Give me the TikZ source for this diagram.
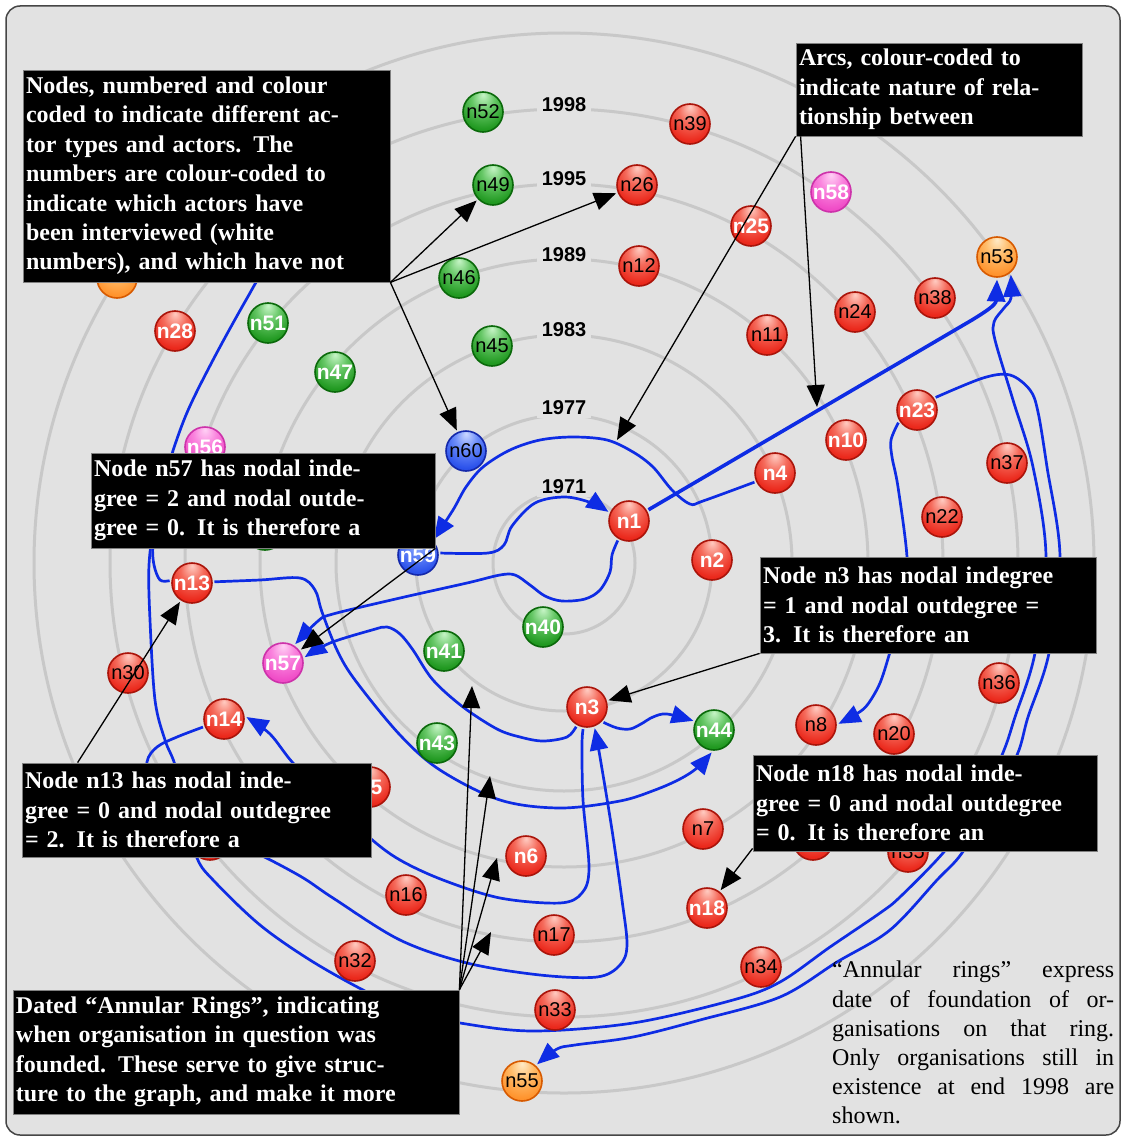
\documentclass[tikz,border=0pt]{standalone}
\usepackage{fontspec}
\setmainfont{Liberation Serif}
\newfontfamily\lsans{Liberation Sans}
\usetikzlibrary{arrows.meta}

\definecolor{bgfill}{RGB}{226,226,226}
\definecolor{ringgray}{RGB}{200,200,200}
\definecolor{frameline}{RGB}{70,70,70}
\definecolor{eblue}{RGB}{14,44,228}
\definecolor{rimred}{RGB}{170,20,10}
\definecolor{rimgreen}{RGB}{10,105,10}
\definecolor{rimblue}{RGB}{20,40,170}
\definecolor{rimpink}{RGB}{205,50,170}
\definecolor{rimorange}{RGB}{215,90,0}

% glossy sphere shadings, highlight near the top
\pgfdeclareradialshading{redball}{\pgfpoint{0bp}{22bp}}{rgb(0bp)=(1,.80,.76); rgb(14bp)=(.96,.42,.36); rgb(30bp)=(.92,.16,.11); rgb(44bp)=(.86,.11,.07); rgb(50bp)=(.74,.07,.04)}
\pgfdeclareradialshading{greenball}{\pgfpoint{0bp}{22bp}}{rgb(0bp)=(.78,.96,.78); rgb(14bp)=(.40,.78,.40); rgb(30bp)=(.13,.60,.13); rgb(44bp)=(.09,.52,.09); rgb(50bp)=(.05,.42,.05)}
\pgfdeclareradialshading{blueball}{\pgfpoint{0bp}{22bp}}{rgb(0bp)=(.80,.85,1); rgb(14bp)=(.42,.55,.98); rgb(30bp)=(.17,.32,.92); rgb(44bp)=(.12,.24,.82); rgb(50bp)=(.08,.16,.66)}
\pgfdeclareradialshading{pinkball}{\pgfpoint{0bp}{22bp}}{rgb(0bp)=(1,.82,.96); rgb(14bp)=(.98,.52,.87); rgb(30bp)=(.94,.30,.78); rgb(44bp)=(.90,.24,.72); rgb(50bp)=(.80,.18,.64)}
\pgfdeclareradialshading{orangeball}{\pgfpoint{0bp}{22bp}}{rgb(0bp)=(1,.92,.78); rgb(14bp)=(1,.74,.42); rgb(30bp)=(1,.58,.18); rgb(44bp)=(.97,.50,.10); rgb(50bp)=(.88,.40,.02)}

\pgfdeclarelayer{ringlayer}
\pgfdeclarelayer{edgelayer}
\pgfdeclarelayer{boxlayer}
\pgfdeclarelayer{toplayer}
\pgfsetlayers{ringlayer,edgelayer,main,boxlayer,toplayer}

\tikzset{
  ball/.style={circle, minimum size=40pt, inner sep=0pt, outer sep=2.5pt, line width=1.6pt,
    shade, font=\lsans\fontsize{20}{20}\selectfont, text=black},
  rball/.style={ball, shading=redball, draw=rimred},
  gball/.style={ball, shading=greenball, draw=rimgreen},
  bball/.style={ball, shading=blueball, draw=rimblue},
  pball/.style={ball, shading=pinkball, draw=rimpink},
  oball/.style={ball, shading=orangeball, draw=rimorange},
  wl/.style={text=white, font=\lsans\bfseries\fontsize{21}{21}\selectfont},
  yearlabel/.style={fill=bgfill, inner xsep=5pt, inner ysep=3pt, font=\lsans\bfseries\fontsize{20}{20}\selectfont},
  annot/.style={fill=black, draw=gray, line width=0.8pt, text=white, inner xsep=3pt, inner ysep=0pt,
    align=left, font=\bfseries\fontsize{24}{29.4}\selectfont},
  be/.style={draw=eblue, line width=2.7pt, line join=round, -{Triangle[length=22pt,width=18pt]}},
  ae/.style={draw=black, line width=1.3pt, -{Triangle[length=22pt,width=18pt]}},
  sm/.style={smooth, tension=0.55}
}

\begin{document}
\begin{tikzpicture}[x=1pt,y=-1pt]
\path[use as bounding box] (0,0) rectangle (1122,1137);

% ---------- frame, annual rings and their dates ----------
\begin{pgfonlayer}{ringlayer}
  \fill[white] (0,0) rectangle (1122,1137);
  \draw[frameline, fill=bgfill, line width=1.5pt, rounded corners=14pt] (6,6) rectangle (1120,1135);
  \foreach \r in {71pt,148pt,228pt,304pt,379pt,454pt,530pt}
    \draw[ringgray, line width=3pt] (564,563) circle[radius=\r];
  \node[yearlabel] (y71) at (564,486.5) {1971};
  \node[yearlabel] (y77) at (564,407.5) {1977};
  \node[yearlabel] (y83) at (564,330) {1983};
  \node[yearlabel] (y89) at (564,254.5) {1989};
  \node[yearlabel] (y95) at (564,178.5) {1995};
  \node[yearlabel] (y98) at (564,105) {1998};
\end{pgfonlayer}

% ---------- actors ----------
\node[gball] (n52) at (483,112) {n52};
\node[rball] (n39) at (690,124) {n39};
\node[gball] (n49) at (493,185) {n49};
\node[rball] (n26) at (637,185) {n26};
\node[pball, wl] (n58) at (831,192) {n58};
\node[rball, wl] (n25) at (751,226) {n25};
\node[oball] (n53) at (997,257) {n53};
\node[rball] (n12) at (639,266) {n12};
\node[gball] (n46) at (459,278) {n46};
\node[oball] (o1) at (117,278) {};
\node[rball, wl] (n28) at (175,331) {n28};
\node[gball, wl] (n51) at (268,323) {n51};
\node[gball, wl] (n47) at (335,372) {n47};
\node[gball] (n45) at (492,346) {n45};
\node[rball] (n11) at (767,335) {n11};
\node[rball] (n24) at (855,312) {n24};
\node[rball] (n38) at (935,298) {n38};
\node[rball, wl] (n23) at (917,410) {n23};
\node[rball, wl] (n10) at (846,440) {n10};
\node[rball] (n37) at (1007,463) {n37};
\node[rball, wl] (n4) at (775,473) {n4};
\node[rball] (n22) at (942,517) {n22};
\node[pball, wl] (n56) at (205,447) {n56};
\node[bball] (n60) at (466,451) {n60};
\node[rball, wl] (n1) at (629,521) {n1};
\node[bball, wl] (n59) at (418,555) {n59};
\node[gball] (g1) at (265,530) {};
\node[rball, wl] (n2) at (712,560) {n2};
\node[rball, wl] (n13) at (192,583) {n13};
\node[gball, wl] (n40) at (543,627) {n40};
\node[pball, wl] (n57) at (283,663) {n57};
\node[rball] (n30) at (128,673) {n30};
\node[gball, wl] (n41) at (444,651) {n41};
\node[rball] (n36) at (999,683) {n36};
\node[rball, wl] (n3) at (587,707) {n3};
\node[rball, wl] (n14) at (224,719) {n14};
\node[rball] (n8) at (816,725) {n8};
\node[rball] (n20) at (894,734) {n20};
\node[gball, wl] (n44) at (714,730) {n44};
\node[gball, wl] (n43) at (437,743) {n43};
\node[rball, wl] (n5) at (370,787) {n5};
\node[rball] (r1) at (210,840) {};
\node[rball] (n7) at (703,829) {n7};
\node[rball, wl] (n6) at (526,856) {n6};
\node[rball] (n16) at (406,895) {n16};
\node[rball, wl] (n18) at (707,908) {n18};
\node[rball] (r2) at (813,840) {};
\node[rball] (n35) at (908,852) {n35};
\node[rball] (n17) at (554,935) {n17};
\node[rball] (n32) at (355,961) {n32};
\node[rball] (n34) at (761,967) {n34};
\node[rball] (n33) at (555,1010) {n33};
\node[oball] (n55) at (522,1081) {n55};

\coordinate (hidsrc) at (300,235);

% ---------- relationships ----------
\begin{pgfonlayer}{edgelayer}
  % n59 -> n1
  \draw[be] plot[sm] coordinates {(n59.5) (488,553) (504,545) (512,526) (535,503) (565,497) (592,503) (n1.156)};
  % n4 -> n59
  \draw[be] plot[sm] coordinates {(n4.204) (703,501) (690,504) (672,490) (653,467) (633,452) (607,440) (573,437) (540,440) (510,450) (483,467) (466,487) (453,510) (n59.45)};
  % n1 -> n53
  \draw[be, line width=3.6pt] (n1.30) -- (972,320) .. controls (985,312) and (996,305) .. (n53.south);
  % n1 -> n57
  \draw[be] plot[sm] coordinates {(n1.240) (612,555) (610,572) (600,590) (585,599) (562,601) (545,596) (530,585) (515,575) (500,575) (467,583) (400,598) (333,614) (318,621) (n57.57)};
  % n3 -> n57
  \draw[be] plot[sm] coordinates {(n3.241) (567,737) (543,741) (520,737) (497,729) (463,707) (433,680) (413,650) (400,634) (387,627) (372,630) (330,643) (n57.15)};
  % n3 -> n44
  \draw[be] plot[sm] coordinates {(n3.317) (617,728) (630,729) (641,724) (653,717) (667,714) (n44.156)};
  % n3 -> n14
  \draw[be] plot[sm] coordinates {(n3.260) (582,745) (583,800) (589,868) (582,893) (560,903) (500,898) (443,880) (400,860) (370,838) (330,800) (293,763) (270,734) (n14.5)};
  % n14 -> n3
  \draw[be] plot[sm] coordinates {(n14.201) (177,737) (157,747) (147,762) (150,790) (190,825) (250,850) (300,876) (333,898) (400,940) (467,963) (540,975) (597,977) (620,965) (627,945) (622,900) (612,830) (600,757) (n3.-70)};
  % n13 -> n44
  \draw[be] plot[sm] coordinates {(n13.3) (260,580) (300,578) (315,590) (322,612) (337,650) (355,680) (400,735) (440,770) (500,800) (560,808) (620,801) (655,790) (680,779) (697,768) (n44.-96)};
  % n13 -> g1 (runs behind the n57 note)
  \draw[be] plot[sm] coordinates {(n13.174) (160,580) (154,565) (153,545) (160,515) (200,510) (g1.west)};
  % long arc -> n53
  \draw[be] plot[sm] coordinates {(hidsrc) (266,268) (246,300) (213,360) (186,415) (167,470) (155,520) (149,565) (150,620) (155,700) (165,740) (175,765) (185,810) (197,858) (215,882) (260,925) (310,960) (363,990) (410,1012) (460,1023) (533,1031) (633,1023) (733,1000) (780,982) (830,947) (880,913) (900,897) (943,853) (975,810) (1002,755) (1015,717) (1035,653) (1046,557) (1033,467) (1013,400) (995,340) (994,322) (1004,308) (1011,298) (n53.-52)};
  % n23 -> n55
  \draw[be] plot[sm] coordinates {(n23.34) (983,378) (1010,375) (1030,390) (1038,412) (1047,467) (1060,557) (1049,653) (1028,717) (1017,755) (990,805) (962,853) (937,880) (890,930) (837,962) (780,997) (700,1020) (633,1037) (575,1045) (557,1049) (n55.48)};
  % n23 -> n8
  \draw[be] plot[sm] coordinates {(n23.214) (891,440) (892,457) (898,487) (907,557) (905,600) (890,652) (880,683) (868,704) (858,713) (n8.3)};
\end{pgfonlayer}

% ---------- explanatory notes ----------
\begin{pgfonlayer}{boxlayer}
  \node[annot, minimum width=367pt, minimum height=212pt, text width=361pt] (boxA) at (206.5,176)
    {Nodes, numbered and colour\\ coded to indicate different ac-\\ tor types and actors. The\\ numbers are colour-coded to\\ indicate which actors have\\ been interviewed (white\\ numbers), and which have not};
  \node[annot, minimum width=286pt, minimum height=93pt, text width=280pt] (boxB) at (939,89.5)
    {Arcs, colour-coded to\\ indicate nature of rela-\\ tionship between};
  \node[annot, minimum width=344pt, minimum height=95pt, text width=338pt] (boxC) at (263,500.5)
    {Node n57 has nodal inde-\\ gree = 2 and nodal outde-\\ gree = 0. It is therefore a};
  \node[annot, minimum width=336pt, minimum height=96pt, text width=330pt] (boxD) at (928,605)
    {Node n3 has nodal indegree\\ = 1 and nodal outdegree =\\ 3. It is therefore an};
  \node[annot, minimum width=349pt, minimum height=94pt, text width=343pt] (boxE) at (196.5,810)
    {Node n13 has nodal inde-\\ gree = 0 and nodal outdegree\\ = 2. It is therefore a};
  \node[annot, minimum width=344pt, minimum height=96pt, text width=338pt] (boxF) at (925,803)
    {Node n18 has nodal inde-\\ gree = 0 and nodal outdegree\\ = 0. It is therefore an};
  \node[annot, minimum width=446pt, minimum height=124pt, text width=440pt] (boxG) at (236,1052)
    {Dated “Annular Rings”, indicating\\ when organisation in question was\\ founded. These serve to give struc-\\ ture to the graph, and make it more};
  \node[anchor=north west, inner sep=0pt] (note) at (832,961)
    {\parbox[t]{282pt}{\fontsize{24}{29.2}\selectfont “Annular rings” express\linebreak date of foundation of or-\linebreak ganisations on that ring.\linebreak Only organisations still in\linebreak existence at end 1998 are\linebreak shown.}};
\end{pgfonlayer}

% ---------- pointers from the notes ----------
\coordinate (arcpt) at (617,440);
\coordinate (linept) at (817,407);
\coordinate (ringA) at (472,686);
\coordinate (ringB) at (490,776);
\coordinate (ringC) at (497,858);
\coordinate (ringD) at (491,932);
\begin{pgfonlayer}{toplayer}
  \draw[ae] (boxA.south east) -- (n49);
  \draw[ae] (boxA.south east) -- (n26);
  \draw[ae] (boxA.south east) -- (n60);
  \draw[ae] (boxB.south west) -- (arcpt);
  \draw[ae] ([xshift=5pt]boxB.south west) -- (linept);
  \draw[ae] (boxC.south east) -- (n57);
  \draw[ae] (boxD.south west) -- (n3);
  \draw[ae] ([xshift=56pt]boxE.north west) -- (n13);
  \draw[ae] ([yshift=3pt]boxF.south west) -- (n18);
  \draw[ae] (boxG.north east) -- (ringA);
  \draw[ae] (boxG.north east) -- (ringB);
  \draw[ae] (boxG.north east) -- (ringC);
  \draw[ae] (boxG.north east) -- (ringD);
\end{pgfonlayer}
\end{tikzpicture}
\end{document}
